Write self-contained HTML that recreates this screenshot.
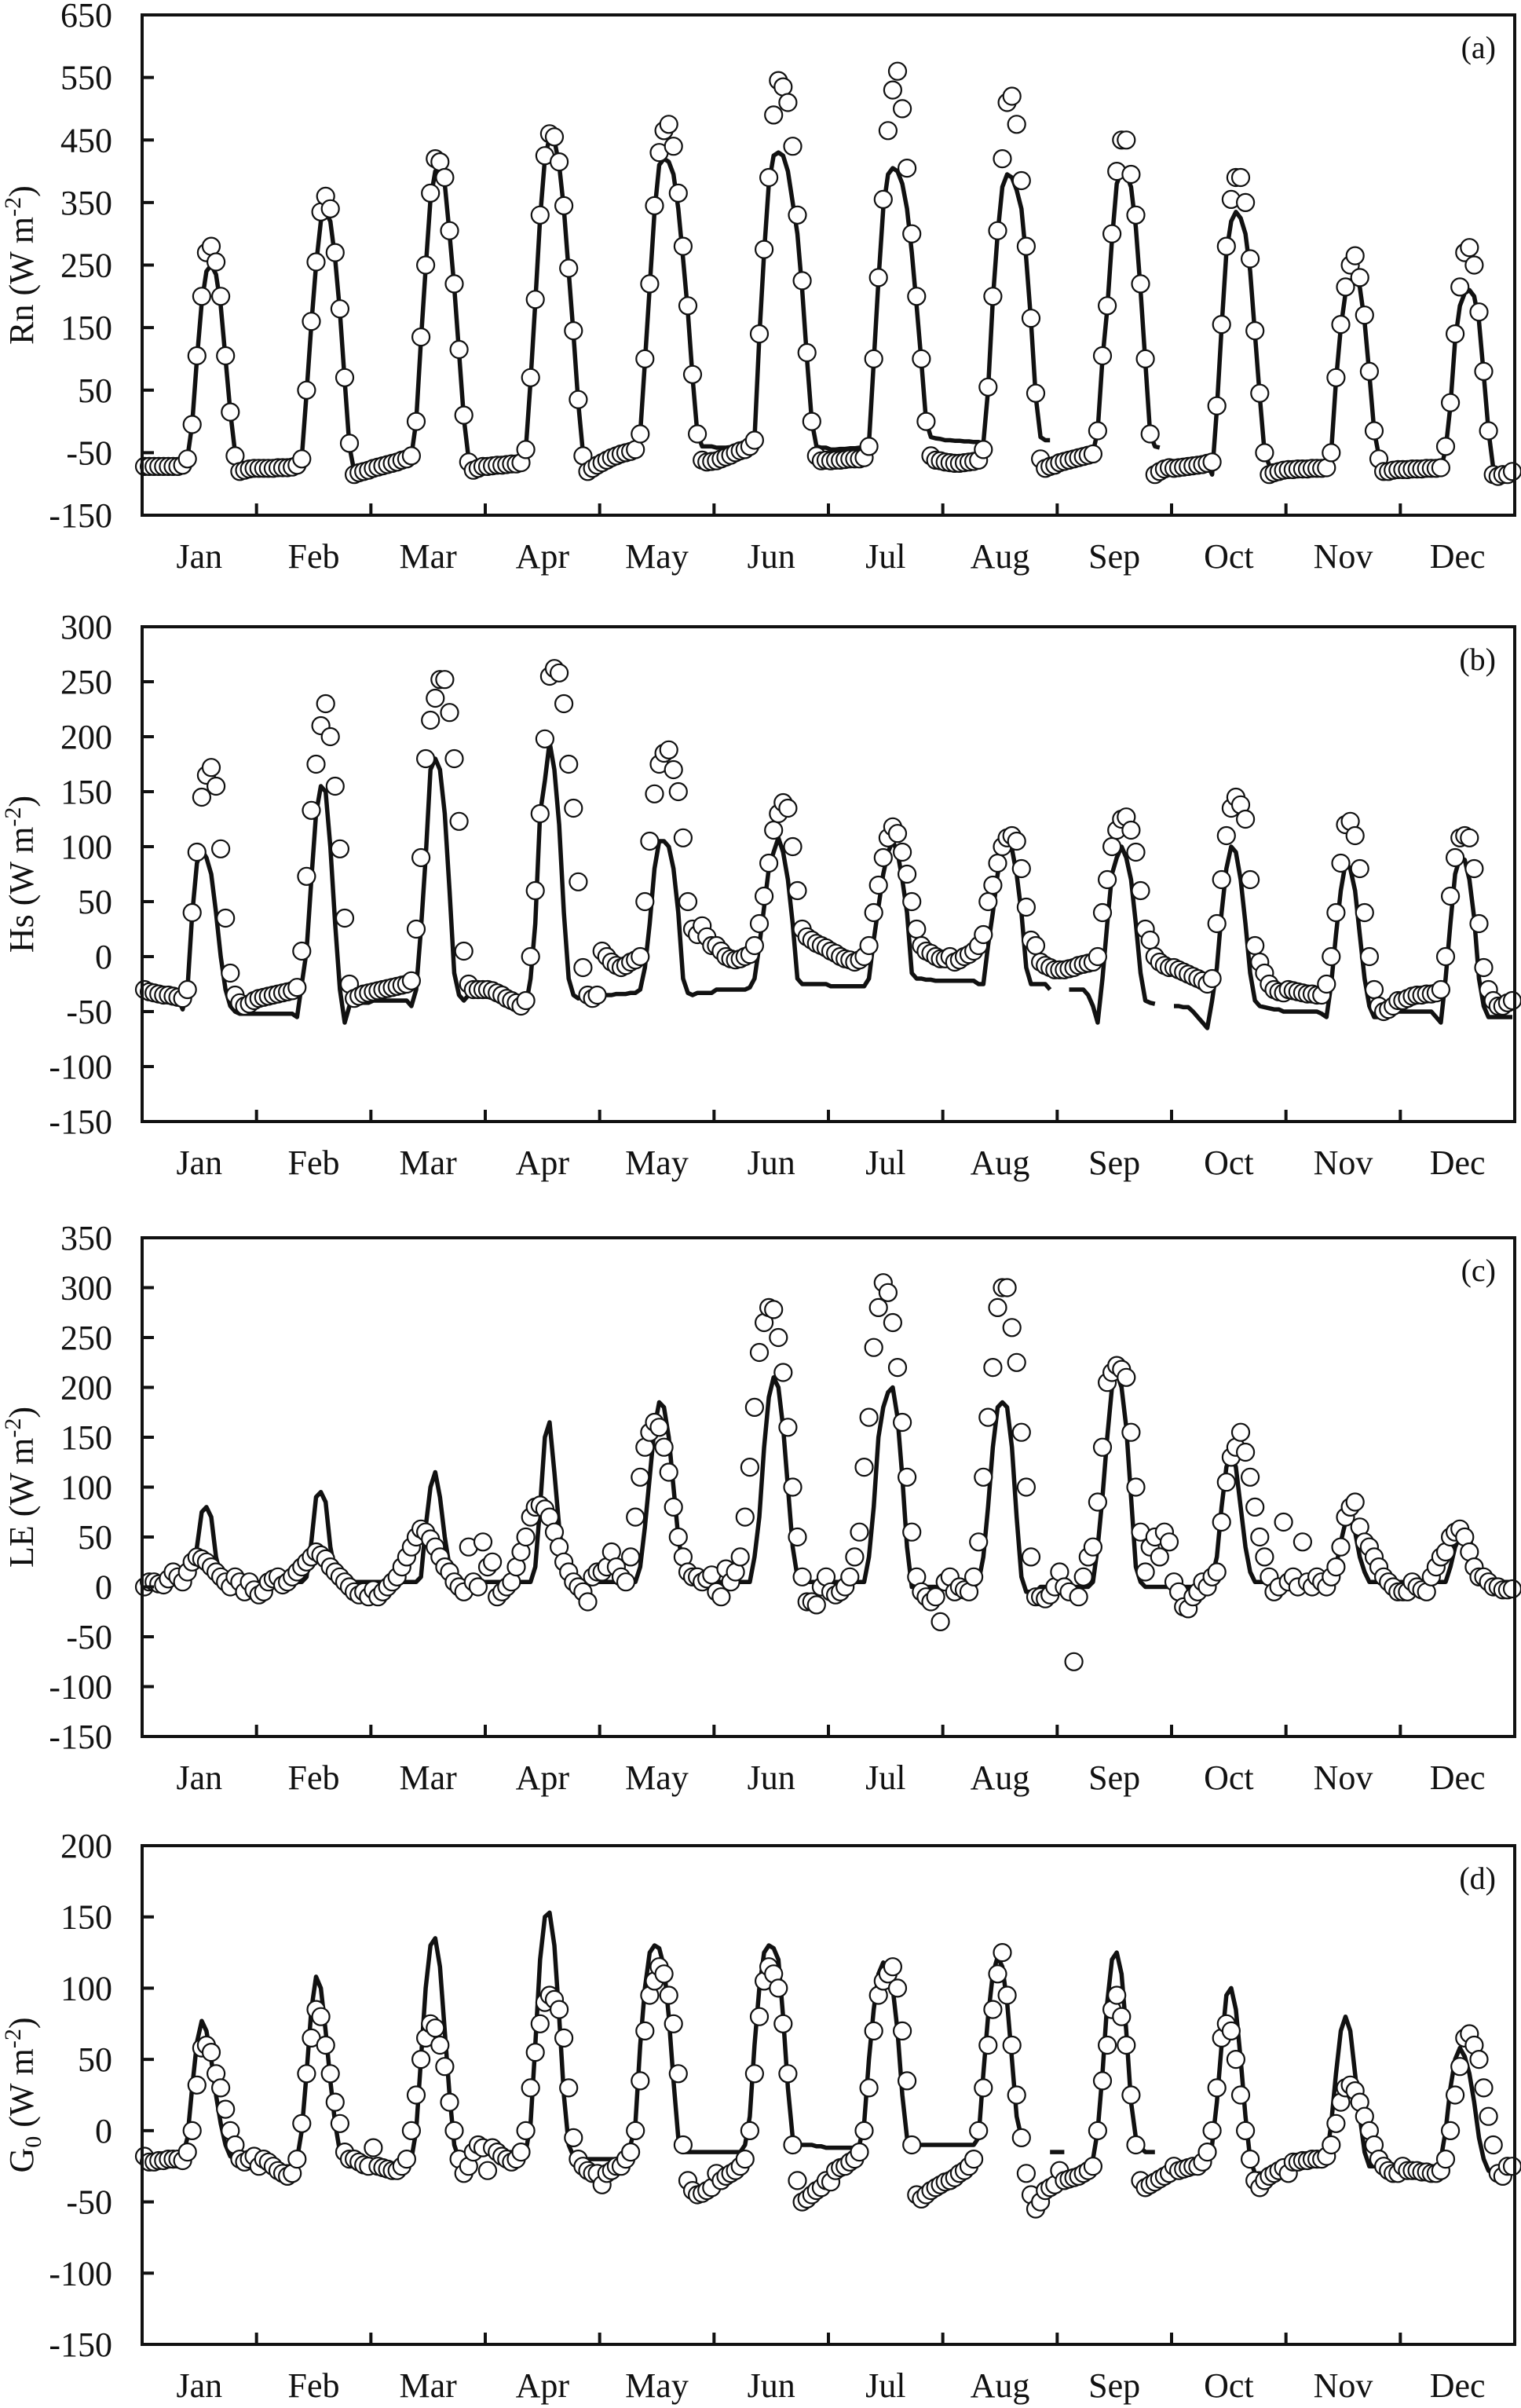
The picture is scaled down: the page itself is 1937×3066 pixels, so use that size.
<!DOCTYPE html>
<html>
<head>
<meta charset="utf-8">
<style>
html,body{margin:0;padding:0;background:#fff;}
svg{display:block;}
text{font-family:"Liberation Serif",serif;fill:#111;}
</style>
</head>
<body>
<svg id="chart" width="1937" height="3066" viewBox="0 0 1937 3066" xmlns="http://www.w3.org/2000/svg"></svg>
<script>
const months = ["Jan","Feb","Mar","Apr","May","Jun","Jul","Aug","Sep","Oct","Nov","Dec"];
const rnTicks = [650,550,450,350,250,150,50,-50,-150];
const hsTicks = [300,250,200,150,100,50,0,-50,-100,-150];
const leTicks = [350,300,250,200,150,100,50,0,-50,-100,-150];
const g0Ticks = [200,150,100,50,0,-50,-100,-150];

const rnObs = [
[-72,-72,-72,-72,-72,-72,-72,-72,-70,-60,-5,105,200,270,280,255,200,105,15,-55,-80,-78,-76,-75],
[-75,-75,-75,-75,-74,-74,-74,-73,-70,-60,50,160,255,335,360,340,270,180,70,-35,-85,-82,-80,-78],
[-75,-73,-71,-69,-67,-65,-62,-60,-55,0,135,250,365,420,415,390,305,220,115,10,-65,-78,-75,-72],
[-72,-71,-70,-70,-69,-68,-68,-66,-45,70,195,330,425,460,455,415,345,245,145,35,-55,-80,-75,-70],
[-66,-62,-58,-55,-52,-50,-48,-45,-20,100,220,345,430,465,475,440,365,280,185,75,-20,-62,-65,-64],
[-63,-60,-57,-54,-50,-47,-45,-40,-30,140,275,390,490,545,535,510,440,330,225,110,0,-55,-63,-62],
[-63,-62,-62,-61,-60,-60,-60,-58,-40,100,230,355,465,530,560,500,405,300,200,100,0,-55,-62,-63],
[-65,-66,-67,-67,-66,-65,-64,-62,-45,55,200,305,420,510,520,475,385,280,165,45,-60,-75,-72,-70],
[-66,-64,-62,-60,-58,-56,-54,-52,-15,105,185,300,400,450,450,395,330,220,100,-20,-85,-80,-76,-74],
[-75,-74,-73,-72,-71,-70,-69,-67,-65,25,155,280,355,390,390,350,260,145,45,-50,-85,-82,-80,-78],
[-77,-77,-76,-76,-76,-75,-75,-75,-74,-50,70,155,215,250,265,230,170,80,-15,-60,-80,-80,-78,-77],
[-77,-77,-76,-76,-76,-75,-75,-75,-74,-40,30,140,215,270,278,250,175,80,-15,-85,-88,-85,-85,-80]
];
const rnMod = [
[-70,-70,-70,-70,-70,-70,-70,-70,-70,-58,-5,100,190,240,250,235,185,100,15,-50,-68,-72,-72,-72],
[-75,-75,-75,-75,-75,-75,-75,-74,-72,-58,45,155,250,320,335,320,260,175,65,-40,-80,-80,-78,-76],
[-74,-72,-70,-68,-66,-64,-62,-60,-55,0,130,245,355,400,405,380,300,215,110,5,-60,-72,-70,-68],
[-70,-70,-70,-69,-69,-68,-67,-66,-45,65,190,325,420,455,450,410,340,240,140,30,-50,-70,-70,-68],
[-64,-60,-56,-53,-50,-48,-46,-44,-20,95,215,335,410,420,415,395,340,260,175,70,-20,-40,-40,-40],
[-42,-42,-42,-41,-41,-40,-40,-40,-28,135,270,380,425,430,425,400,350,300,210,100,0,-40,-42,-42],
[-45,-45,-44,-44,-43,-43,-42,-42,-35,95,225,340,395,405,400,380,340,270,185,95,0,-25,-27,-28],
[-30,-30,-31,-31,-32,-32,-33,-33,-35,50,195,300,375,395,390,370,340,260,160,40,-25,-30,-30,null],
[null,-58,-56,-55,-54,-53,-52,-50,-15,100,180,290,380,400,395,375,310,210,95,-20,-40,-42,null,null],
[-75,-74,-73,-72,-71,-70,-69,-68,-85,20,150,270,320,335,325,300,240,140,40,-50,-70,-72,-72,-72],
[-72,-72,-72,-72,-72,-72,-72,-72,-72,-50,65,150,205,225,230,215,160,75,-15,-55,-75,-78,-78,-78],
[-78,-78,-78,-78,-78,-78,-78,-78,-76,-45,25,130,185,205,210,200,160,75,-15,-75,-85,-85,-85,-85]
];

const hsObs = [
[-30,-32,-33,-34,-35,-35,-36,-37,-38,-30,40,95,145,165,172,155,98,35,-15,-35,-42,-45,-43,-40],
[-38,-37,-36,-35,-34,-33,-32,-31,-28,5,73,133,175,210,230,200,155,98,35,-25,-38,-36,-34,-33],
[-32,-31,-30,-29,-28,-27,-26,-25,-22,25,90,180,215,235,252,252,222,180,123,5,-25,-30,-30,-30],
[-30,-31,-33,-35,-38,-40,-42,-45,-40,0,60,130,198,255,262,258,230,175,135,68,-10,-35,-38,-35],
[5,0,-5,-8,-10,-8,-5,-3,0,50,105,148,175,185,188,170,150,108,50,25,20,28,18,10],
[10,5,0,-2,-3,-2,0,2,10,30,55,85,115,130,140,135,100,60,25,18,15,12,10,8],
[5,3,0,-2,-3,-5,-3,0,10,40,65,90,108,118,112,95,75,50,25,10,5,3,0,-2],
[-2,0,-5,-3,0,2,5,10,20,50,65,85,100,108,110,105,80,45,15,10,-5,-8,-10,-12],
[-12,-12,-11,-10,-8,-7,-6,-5,0,40,70,100,115,125,127,115,95,60,25,15,0,-5,-8,-10],
[-10,-12,-14,-16,-18,-20,-22,-25,-20,30,70,110,135,145,138,125,70,10,-5,-15,-25,-30,-32,-33],
[-30,-31,-32,-33,-34,-34,-35,-35,-25,0,40,85,120,123,110,80,40,0,-30,-45,-50,-48,-45,-40],
[-40,-38,-36,-35,-35,-34,-34,-33,-30,0,55,90,108,110,108,80,30,-10,-30,-40,-45,-45,-42,-40]
];
const hsMod = [
[-35,-35,-35,-35,-35,-35,-36,-38,-48,-30,38,85,97,90,75,40,0,-30,-45,-50,-52,-52,-52,-52],
[-52,-52,-52,-52,-52,-52,-52,-52,-55,-25,5,70,130,155,150,100,30,-30,-60,-45,-42,-42,-42,-42],
[-40,-40,-40,-40,-40,-40,-40,-40,-45,-30,25,90,170,180,170,130,60,-15,-35,-40,-35,-35,-35,-35],
[-35,-35,-35,-36,-38,-40,-42,-48,-45,-20,30,130,160,195,170,120,40,-20,-35,-38,-35,-35,-35,-35],
[-35,-35,-35,-34,-34,-34,-33,-33,-30,-10,30,80,105,105,100,80,40,-20,-33,-35,-33,-33,-33,-33],
[-30,-30,-30,-30,-30,-30,-30,-28,-20,10,45,80,95,108,95,70,30,-20,-25,-25,-25,-25,-25,-25],
[-27,-27,-27,-27,-27,-27,-27,-27,-20,15,45,75,95,105,95,70,40,-15,-20,-20,-21,-21,-22,-22],
[-22,-22,-22,-22,-22,-22,-22,-25,-25,10,40,75,95,105,98,75,40,-10,-25,-25,-25,-25,-30,null],
[null,null,-30,-30,-30,-30,-35,-45,-60,-20,30,75,90,100,90,70,30,-15,-40,-42,-43,null,null,null],
[-45,-45,-46,-46,-50,-55,-60,-65,-40,-10,40,80,100,95,70,30,-15,-40,-45,-46,-47,-48,-48,-50],
[-50,-50,-50,-50,-50,-50,-50,-52,-55,-25,20,60,85,80,60,20,-20,-45,-55,-55,-52,-50,-50,-50],
[-50,-50,-50,-50,-50,-50,-50,-55,-60,-20,30,75,90,88,70,35,-20,-45,-55,-55,-55,-55,-55,-55]
];

const leObs = [
[0,5,5,3,2,8,15,10,5,15,25,30,28,25,20,15,10,5,0,10,5,-5,5,-3],
[-8,-5,5,8,10,2,5,10,15,20,25,30,35,32,28,20,15,10,5,0,-5,-8,-5,-10],
[-3,-10,-5,0,5,10,20,30,40,50,58,55,48,40,30,20,15,5,0,-5,40,5,0,45],
[20,25,-10,-5,0,5,20,35,50,70,80,82,78,70,55,40,25,15,5,0,-5,-15,10,15],
[15,20,35,20,10,5,30,70,110,140,155,165,160,140,115,80,50,30,15,10,10,5,8,12],
[-5,-10,18,5,15,30,70,120,180,235,265,280,278,250,215,160,100,50,10,-15,-15,-18,0,10],
[-5,-8,-5,0,10,30,55,120,170,240,280,305,295,265,220,165,110,55,10,-5,-10,-15,-10,-35],
[5,10,-5,0,-3,-5,10,45,110,170,220,280,300,300,260,225,155,100,30,-10,-10,-12,-8,0],
[15,0,-5,-75,-10,10,30,40,85,140,205,215,222,218,210,155,100,55,15,40,50,30,55,45],
[5,-5,-20,-22,-10,-5,5,0,10,15,65,105,130,140,155,135,110,80,50,30,10,-5,0,65],
[5,10,0,45,5,0,10,5,0,10,20,40,70,80,85,60,45,40,30,20,10,5,0,-5],
[-5,-5,5,0,-3,-5,10,20,30,35,50,55,58,50,35,20,10,10,5,0,0,-3,-3,-2]
];
const leMod = [
[5,5,5,5,5,5,5,5,5,5,10,40,75,80,70,30,10,5,5,5,5,5,5,5],
[5,5,5,5,5,5,5,5,5,5,10,45,90,95,85,40,15,5,5,5,5,5,5,5],
[5,5,5,5,5,5,5,5,5,5,10,60,100,115,90,50,20,5,5,5,5,5,5,5],
[5,5,5,5,5,5,5,5,5,5,20,80,150,165,115,60,25,5,5,5,5,5,5,5],
[5,5,5,5,5,5,5,5,20,60,110,160,185,180,150,100,50,20,10,5,5,5,5,5],
[5,5,5,5,5,5,5,5,30,70,140,190,210,200,160,100,40,10,5,5,5,5,5,5],
[5,5,5,5,5,5,5,5,30,80,150,180,195,200,170,110,40,0,0,0,0,0,0,0],
[0,0,0,0,0,0,0,5,30,80,140,180,185,180,140,70,10,-5,-5,-5,0,0,0,0],
[0,0,0,0,0,0,0,5,40,90,150,200,215,200,160,90,20,5,0,0,0,0,0,0],
[0,0,0,0,0,0,0,5,10,30,80,120,135,120,80,40,15,5,5,5,5,5,5,5],
[5,5,5,5,5,5,5,5,5,5,20,45,65,70,55,30,15,5,5,5,5,5,5,5],
[5,5,5,5,5,5,5,5,5,5,20,40,50,55,50,30,10,5,5,5,5,5,5,5]
];

const g0Obs = [
[-18,-22,-22,-21,-21,-20,-20,-20,-21,-15,0,32,58,60,55,40,30,15,0,-10,-20,-22,-20,-18],
[-25,-20,-22,-25,-28,-30,-32,-30,-20,5,40,65,85,80,60,40,20,5,-15,-20,-20,-22,-24,-25],
[-12,-25,-26,-27,-28,-28,-25,-20,0,25,50,65,75,72,60,45,20,0,-20,-30,-25,-15,-10,-12],
[-28,-12,-15,-18,-20,-22,-20,-15,0,30,55,75,90,95,92,85,65,30,-5,-20,-25,-28,-30,-30],
[-38,-30,-28,-25,-25,-20,-15,0,35,70,95,105,115,110,95,75,40,-10,-35,-42,-45,-44,-42,-40],
[-30,-35,-32,-30,-28,-25,-20,0,40,80,105,115,110,100,75,40,-10,-35,-50,-48,-45,-42,-40,-35],
[-36,-28,-26,-25,-22,-20,-15,0,30,70,95,105,110,115,100,70,35,-10,-45,-48,-45,-42,-40,-38],
[-36,-35,-33,-30,-28,-25,-20,0,30,60,85,110,125,95,60,25,-5,-30,-45,-55,-50,-42,-40,-38],
[-28,-35,-34,-33,-32,-30,-28,-25,0,35,60,85,95,80,60,25,-10,-35,-40,-38,-36,-34,-32,-30],
[-25,-28,-27,-26,-25,-25,-22,-15,0,30,65,75,70,50,25,0,-20,-35,-40,-35,-32,-30,-28,-26],
[-30,-22,-22,-21,-21,-20,-20,-20,-18,-10,5,20,30,32,28,20,10,0,-10,-20,-25,-28,-30,-30],
[-25,-28,-28,-28,-29,-29,-30,-30,-28,-20,0,25,45,65,68,60,50,30,10,-10,-30,-32,-25,-25]
];
const g0Mod = [
[-20,-20,-20,-20,-20,-20,-20,-20,-18,-5,30,62,77,70,50,25,5,-10,-18,-20,-20,-20,-20,-22],
[-22,-23,-23,-24,-24,-25,-25,-25,-20,0,40,85,108,100,70,35,5,-15,-20,-22,-22,-24,-24,-25],
[-25,-25,-25,-25,-25,-25,-25,-25,-20,0,50,100,130,135,115,70,25,-10,-20,-20,-15,-15,-15,-15],
[-15,-15,-15,-15,-15,-15,-18,-20,-15,5,60,120,150,153,130,80,25,-10,-18,-20,-20,-20,-20,-20],
[-20,-20,-20,-20,-18,-15,-10,5,60,100,125,130,128,115,80,35,-5,-15,-15,-15,-15,-15,-15,-15],
[-15,-15,-15,-15,-15,-15,-10,10,60,100,125,130,128,120,80,30,-5,-10,-10,-10,-10,-11,-11,-12],
[-12,-12,-12,-12,-12,-12,-10,5,50,85,110,118,115,100,70,25,-5,-10,-10,-10,-10,-10,-10,-10],
[-10,-10,-10,-10,-10,-10,-10,-5,40,80,110,122,115,90,50,10,-5,-8,null,null,null,null,-15,-15],
[-15,-15,null,null,null,null,null,-20,0,40,90,120,125,110,70,20,-5,-12,-15,-15,-15,null,null,null],
[null,null,null,null,-30,-30,-28,-25,-10,20,60,95,100,85,50,10,-20,-30,-30,-30,-28,-28,-28,-28],
[-28,-27,-26,-25,-25,-25,-25,-25,-20,5,40,70,80,70,40,10,-15,-25,-25,-25,-25,-25,-25,-25],
[-25,-25,-25,-26,-27,-28,-28,-28,-20,0,30,50,58,52,40,20,-5,-20,-28,-30,-30,-30,-30,-30]
];

const NS = "http://www.w3.org/2000/svg";
const svg = document.getElementById("chart");
const X0 = 181, X1 = 1929, MW = (X1 - X0) / 12;
function xScale(m, h) { return X0 + m * MW + (h + 0.5) * MW / 24; }
function mk(tag, attrs, parent) {
  const e = document.createElementNS(NS, tag);
  for (const k in attrs) e.setAttribute(k, attrs[k]);
  (parent || svg).appendChild(e);
  return e;
}

const panels = [
  {key:"rn", top:19, bottom:656, min:-150, max:650, ticks:rnTicks, obs:rnObs, mod:rnMod, label:"(a)", title:"Rn", sub:null},
  {key:"hs", top:798, bottom:1428, min:-150, max:300, ticks:hsTicks, obs:hsObs, mod:hsMod, label:"(b)", title:"Hs", sub:null},
  {key:"le", top:1576, bottom:2211, min:-150, max:350, ticks:leTicks, obs:leObs, mod:leMod, label:"(c)", title:"LE", sub:null},
  {key:"g0", top:2350, bottom:2985, min:-150, max:200, ticks:g0Ticks, obs:g0Obs, mod:g0Mod, label:"(d)", title:"G", sub:"0"}
];

panels.forEach(p => {
  const g = mk("g", {});
  
  
  const yScale = v => p.bottom - (v - p.min) / (p.max - p.min) * (p.bottom - p.top);

  let d = "", pen = false;
  for (let m = 0; m < 12; m++) for (let h = 0; h < 24; h++) {
    const v = p.mod[m][h];
    if (v === null) { pen = false; continue; }
    d += (pen ? "L" : "M") + xScale(m, h).toFixed(1) + " " + yScale(v).toFixed(1) + " ";
    pen = true;
  }
  const line = mk("path", {d: d, fill: "none", stroke: "#111", "stroke-width": 5.5, "stroke-linejoin": "round", "stroke-linecap": "butt"}, g);
  
  

  const cg = mk("g", {}, g);
  
  
  for (let m = 0; m < 12; m++) for (let h = 0; h < 24; h++) {
    const v = p.obs[m][h];
    if (v === null) continue;
    const c = mk("circle", {cx: xScale(m, h).toFixed(1), cy: yScale(v).toFixed(1), r: 11, fill: "#fff", stroke: "#111", "stroke-width": 2.2}, cg);
    
    
  }

  const fr = mk("rect", {x: X0, y: p.top, width: X1 - X0, height: p.bottom - p.top, fill: "none", stroke: "#111", "stroke-width": 4}, g);
  
  

  p.ticks.forEach(t => {
    const y = yScale(t);
    if (t !== p.max && t !== p.min) {
      const tk = mk("line", {x1: X0, x2: X0 + 15, y1: y, y2: y, stroke: "#111", "stroke-width": 4}, g);
      
      
    }
    const tl = mk("text", {x: 143, y: y + 15, "text-anchor": "end", "font-size": 44}, g);
    tl.textContent = t;
    
    
  });

  for (let m = 0; m < 12; m++) {
    if (m > 0) {
      const x = X0 + m * MW;
      const tk = mk("line", {x1: x, x2: x, y1: p.bottom, y2: p.bottom - 15, stroke: "#111", "stroke-width": 4}, g);
      
      
    }
    const ml = mk("text", {x: X0 + (m + 0.5) * MW, y: p.bottom + 67, "text-anchor": "middle", "font-size": 44}, g);
    ml.textContent = months[m];
    
    
  }

  const cy = (p.top + p.bottom) / 2;
  const yt = mk("text", {x: 0, y: 0, "text-anchor": "middle", "font-size": 44, transform: "translate(42," + cy + ") rotate(-90)"}, g);
  
  
  const t1 = mk("tspan", {}, yt); t1.textContent = p.title;
  if (p.sub) { const s = mk("tspan", {"font-size": 30, dy: 10}, yt); s.textContent = p.sub; const r = mk("tspan", {dy: -10}, yt); r.textContent = " (W m"; }
  else { const r = mk("tspan", {}, yt); r.textContent = " (W m"; }
  const sup = mk("tspan", {"font-size": 30, dy: -16}, yt); sup.textContent = "-2";
  const cl = mk("tspan", {dy: 16}, yt); cl.textContent = ")";

  const pl = mk("text", {x: 1905, y: p.top + 55, "text-anchor": "end", "font-size": 40}, g);
  pl.textContent = p.label;
  
  
});
</script>
</body>
</html>
